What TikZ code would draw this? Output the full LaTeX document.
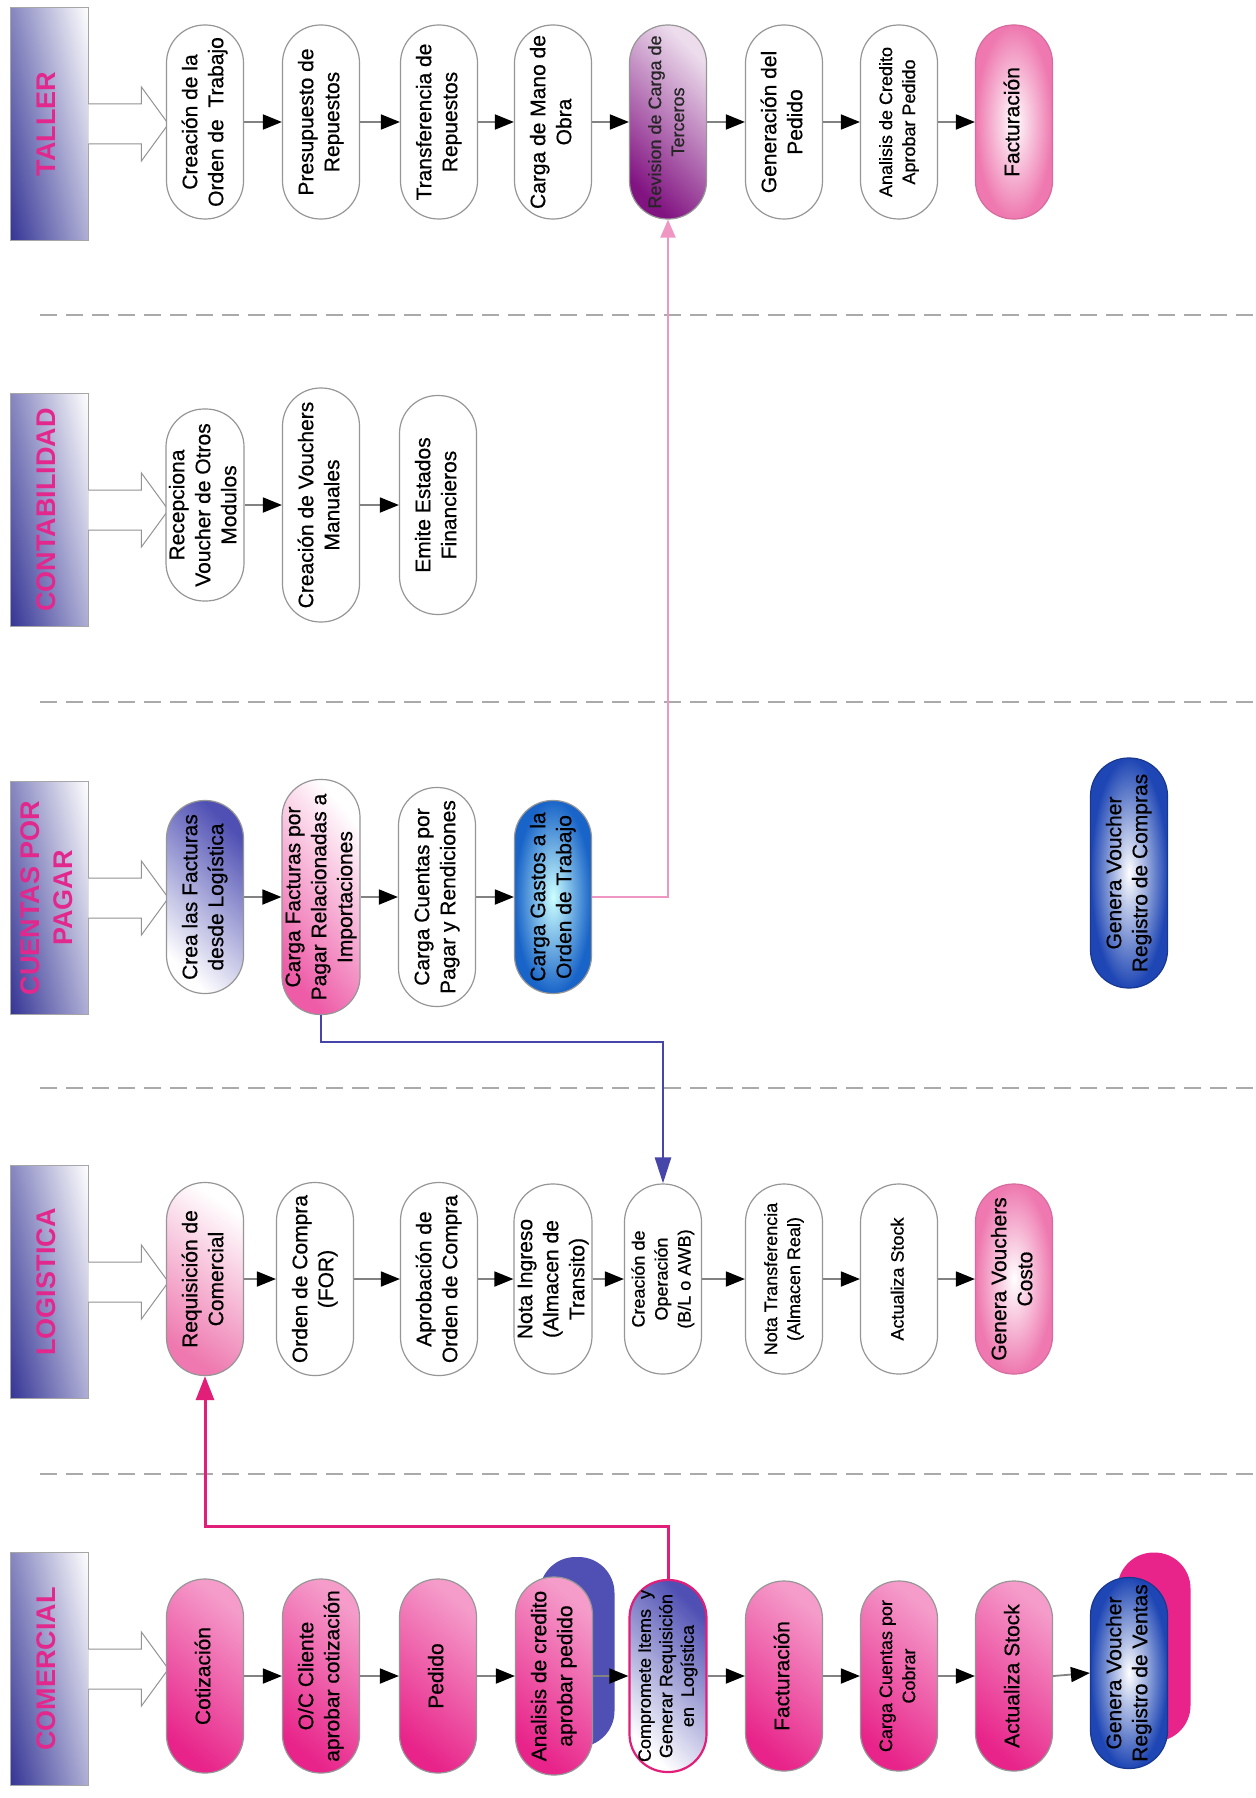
\documentclass[tikz,border=0pt]{standalone}
\usepackage{fontspec}
\setmainfont{Liberation Sans}
\newfontfamily\boldish[FakeBold=0.6]{Liberation Sans}
\usetikzlibrary{arrows.meta,calc}
\definecolor{hdrblue}{RGB}{52,52,150}
\definecolor{hdrpink}{RGB}{226,40,140}
\definecolor{pillgray}{RGB}{150,150,150}
\definecolor{mag}{RGB}{232,36,138}
\definecolor{lightpink}{RGB}{238,120,175}
\definecolor{purp}{RGB}{130,20,130}
\definecolor{bviolet}{RGB}{80,80,180}
\definecolor{cblue}{RGB}{25,100,200}
\definecolor{dblue}{RGB}{30,70,180}
\definecolor{arrgray}{RGB}{130,130,130}
\definecolor{dashgray}{RGB}{170,170,170}
\definecolor{linkpink}{RGB}{240,150,195}
\definecolor{linkblue}{RGB}{70,70,170}
\definecolor{linkmag}{RGB}{225,30,120}
\newcommand{\rt}[1]{\rotatebox{90}{\begin{tabular}{@{}c@{}}#1\end{tabular}}}
\newcommand{\bigarrow}[1]{\filldraw[hollow] ($(#1.east)+(0,-20)$) -- ++(53,0) -- ++(0,-17) -- ++(27,37) -- ++(-27,37) -- ++(0,-17) -- ++(-53,0);}
\tikzset{
  pill/.style={rectangle, rounded corners=38pt, minimum width=77pt, minimum height=194pt, inner sep=0pt, draw=pillgray, line width=1.2pt, font={\boldish\fontsize{21}{26}\selectfont}},
  smalltxt/.style={font={\boldish\fontsize{18}{23}\selectfont}},
  wpill/.style={pill, fill=white},
  magpill/.style={pill, top color=mag!45!white, bottom color=mag, shading angle=-40},
  lpinkpill/.style={pill, draw=lightpink!90!black, inner color=white, outer color=lightpink},
  reqpill/.style={pill, top color=white, bottom color=lightpink, shading angle=-35},
  cfpill/.style={pill, top color=white, bottom color=mag!75!white, shading angle=-50},
  revpill/.style={pill, top color=purp!15!white, bottom color=purp, shading angle=-45, text=black!85},
  violpill/.style={pill, top color=bviolet, bottom color=white, shading angle=-45},
  comppill/.style={pill, top color=bviolet, bottom color=white, shading angle=-45, draw=linkmag, line width=2.2pt},
  gastpill/.style={pill, inner color=cyan!20!white, outer color=cblue},
  vpill/.style={pill, draw=dblue!80!black, inner color=white, outer color=dblue},
  backpill/.style={rectangle, rounded corners=36pt, minimum width=75pt, minimum height=190pt, inner sep=0pt},
  hdr/.style={rectangle, minimum width=78pt, minimum height=233pt, inner sep=0pt, draw=gray!70, line width=0.8pt, left color=hdrblue, middle color=hdrblue!80!white, right color=white,
    path picture={\shade[top color=white, bottom color=hdrblue, opacity=0.4] (path picture bounding box.south west) rectangle (path picture bounding box.north east);},
    font={\fontsize{27}{33}\selectfont\bfseries}, text=hdrpink},
  hollow/.style={draw=gray!85, fill=white, line width=1pt},
  flow/.style={draw=arrgray, line width=1.8pt, -{Triangle[length=19pt,width=15pt,color=black,fill=black]}},
  divider/.style={draw=dashgray, line width=2pt, dash pattern=on 17pt off 9pt},
  linkP/.style={draw=linkpink, line width=2pt, -{Triangle[length=18pt,width=15pt]}},
  linkB/.style={draw=linkblue, line width=2.5pt, -{Triangle[length=26pt,width=16pt]}},
  linkM/.style={draw=linkmag, line width=3pt, -{Triangle[length=24pt,width=18pt]}}
}
\begin{document}
\begin{tikzpicture}[x=1pt,y=-1pt]
\fill[white] (0,0) rectangle (1255,1798);
\useasboundingbox (0,0) rectangle (1255,1798);

% dividers
\draw[divider] (40,315) -- (1255,315);
\draw[divider] (40,702) -- (1255,702);
\draw[divider] (40,1088) -- (1255,1088);
\draw[divider] (40,1474) -- (1255,1474);

% headers
\node[hdr] (hT) at (49,124) {\rt{TALLER}};
\node[hdr] (hK) at (49,510) {\rt{CONTABILIDAD}};
\node[hdr] (hP) at (49,898) {\rt{CUENTAS POR\\PAGAR}};
\node[hdr] (hL) at (49,1282) {\rt{LOGISTICA}};
\node[hdr] (hC) at (49,1669) {\rt{COMERCIAL}};
\bigarrow{hT}
\bigarrow{hK}
\bigarrow{hP}
\bigarrow{hL}
\bigarrow{hC}

% TALLER
\node[wpill] (t1) at (205,122) {\rt{Creación de la\\Orden de\ \ Trabajo}};
\node[wpill] (t2) at (321,122) {\rt{Presupuesto de\\Repuestos}};
\node[wpill] (t3) at (439,122) {\rt{Transferencia de\\Repuestos}};
\node[wpill] (t4) at (553,122) {\rt{Carga de Mano de\\Obra}};
\node[revpill,smalltxt] (t5) at (668,122) {\rt{Revision de Carga de\\Terceros}};
\node[wpill] (t6) at (784,122) {\rt{Generación del\\Pedido}};
\node[wpill,smalltxt] (t7) at (899,122) {\rt{Analisis de Credito\\Aprobar Pedido}};
\node[lpinkpill] (t8) at (1014,122) {\rt{Facturación}};
\foreach \a/\b in {t1/t2,t2/t3,t3/t4,t4/t5,t5/t6,t6/t7,t7/t8} \draw[flow] (\a.east) -- (\b.west);

% CONTABILIDAD
\node[wpill, minimum height=192pt] (k1) at (205,505) {\rt{Recepciona\\Voucher de Otros\\Modulos}};
\node[wpill, minimum height=234pt] (k2) at (321,505) {\rt{Creación de Vouchers\\Manuales}};
\node[wpill, minimum height=219pt] (k3) at (438,505) {\rt{Emite Estados\\Financieros}};
\draw[flow] (k1.east) -- (k2.west);
\draw[flow] (k2.east) -- (k3.west);

% CUENTAS POR PAGAR
\node[violpill, minimum height=193pt] (p1) at (205,897) {\rt{Crea las Facturas\\desde Logística}};
\node[cfpill, minimum height=235pt] (p2) at (321,897) {\rt{Carga Facturas por\\Pagar Relacionadas a\\Importaciones}};
\node[wpill, minimum height=219pt] (p3) at (437,897) {\rt{Carga Cuentas por\\Pagar y Rendiciones}};
\node[gastpill, minimum height=193pt] (p4) at (553,897) {\rt{Carga Gastos a la\\Orden de Trabajo}};
\node[vpill, minimum height=230pt] (pc) at (1129,873) {\rt{Genera Voucher\\Registro de Compras}};
\draw[flow] (p1.east) -- (p2.west);
\draw[flow] (p2.east) -- (p3.west);
\draw[flow] (p3.east) -- (p4.west);

% LOGISTICA
\node[reqpill, minimum height=193pt] (l1) at (205,1279) {\rt{Requisición de\\Comercial}};
\node[wpill, minimum height=193pt] (l2) at (315,1279) {\rt{Orden de Compra\\(FOR)}};
\node[wpill, minimum height=193pt] (l3) at (439,1279) {\rt{Aprobación de\\Orden de Compra}};
\node[wpill, minimum height=190pt] (l4) at (553,1279) {\rt{Nota Ingreso\\(Almacen de\\Transito)}};
\node[wpill, smalltxt, minimum height=190pt] (l5) at (663,1279) {\rt{Creación de\\Operación\\(B/L o AWB)}};
\node[wpill, smalltxt, minimum height=190pt] (l6) at (784,1279) {\rt{Nota Transferencia\\(Almacen Real)}};
\node[wpill, smalltxt, minimum height=190pt] (l7) at (899,1279) {\rt{Actualiza Stock}};
\node[lpinkpill, minimum height=190pt] (l8) at (1014,1279) {\rt{Genera Vouchers\\Costo}};
\foreach \a/\b in {l1/l2,l2/l3,l3/l4,l4/l5,l5/l6,l6/l7,l7/l8} \draw[flow] (\a.east) -- (\b.west);

% COMERCIAL
\node[magpill] (c1) at (205,1676) {\rt{Cotización}};
\node[magpill] (c2) at (321,1676) {\rt{O/C Cliente\\aprobar cotización}};
\node[magpill] (c3) at (438,1676) {\rt{Pedido}};
\node[backpill, fill=bviolet] (cb4) at (577,1652) {};
\node[magpill, minimum height=198pt] (c4) at (554,1676) {\rt{Analisis de credito\\aprobar pedido}};
\node[comppill, minimum height=192pt, font={\boldish\fontsize{18}{21.5}\selectfont}] (c5) at (668,1676) {\rt{Compromete Items\ \ y\\Generar Requisición\\en\ \ Logística}};
\node[magpill, minimum height=190pt] (c6) at (784,1676) {\rt{Facturación}};
\node[magpill, smalltxt, minimum height=190pt] (c7) at (899,1676) {\rt{Carga Cuentas por\\Cobrar}};
\node[magpill, minimum height=190pt] (c8) at (1014,1676) {\rt{Actualiza Stock}};
\node[backpill, fill=mag, minimum width=73pt, minimum height=189pt] (cb9) at (1154,1647) {};
\node[vpill, minimum height=191pt] (c9) at (1129,1673) {\rt{Genera Voucher\\Registro de Ventas}};
\foreach \a/\b in {c1/c2,c2/c3,c3/c4,c4/c5,c5/c6,c6/c7,c7/c8,c8/c9} \draw[flow] (\a.east) -- (\b.west);

% cross-lane links
\draw[linkP] (p4.east) -- (p4.east -| t5) -- (t5.south);
\draw[linkB] (p2.south) -- ++(0,27) -| (l5.north);
\draw[linkM] (c5.north) -- ++(0,-52) -| (l1.south);
\end{tikzpicture}
\end{document}
